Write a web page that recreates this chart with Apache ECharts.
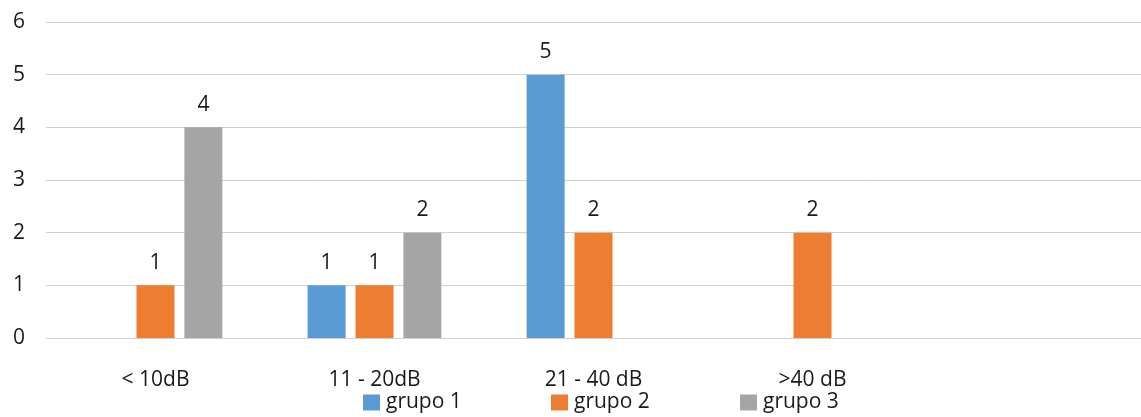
<!DOCTYPE html>
<html>
<head>
<meta charset="utf-8">
<script src="https://cdn.jsdelivr.net/npm/echarts@6/dist/echarts.min.js"></script>
<style>
  html, body { margin: 0; padding: 0; background: #fff; }
  #chart { width: 1141px; height: 417px; }
</style>
</head>
<body>
<div id="chart"></div>
<script>
// Hearing-loss ranges (last slot left empty)
const categories = ['< 10dB', '11 - 20dB', '21 - 40 dB', '>40 dB', ''];
const seriesNames = ['grupo 1', 'grupo 2', 'grupo 3'];
const grupo1 = [0, 1, 5, 0, null];
const grupo2 = [1, 1, 2, 2, null];
const grupo3 = [4, 2, 0, 0, null];
const yTicks = [0, 1, 2, 3, 4, 5, 6];

const colors = ['#5B9BD5', '#ED7D31', '#A5A5A5'];
const font = "'Open Sans', 'Noto Sans', sans-serif";
const textColor = '#1a1a1a';
const fontSize = 21;

const chart = echarts.init(document.getElementById('chart'));

const values = [grupo1, grupo2, grupo3];
const legendLeft = [363, 551, 740];

chart.setOption({
  animation: false,
  color: colors,
  grid: { left: 46, right: 0, top: 22, bottom: 79, containLabel: false },
  legend: seriesNames.map((name, i) => ({
    data: [name],
    left: legendLeft[i],
    top: 392,
    itemWidth: 17,
    itemHeight: 16,
    itemGap: 0,
    icon: 'rect',
    textStyle: { fontFamily: font, fontSize: fontSize, color: textColor, padding: [0, 0, 0, 1] },
    padding: 0
  })),
  xAxis: {
    type: 'category',
    data: categories,
    axisLine: { show: false },
    axisTick: { show: false },
    axisLabel: { fontFamily: font, fontSize: fontSize, color: textColor, margin: 32 }
  },
  yAxis: {
    type: 'value',
    min: yTicks[0],
    max: yTicks[yTicks.length - 1],
    interval: 1,
    axisLine: { show: false },
    axisTick: { show: false },
    axisLabel: { fontFamily: font, fontSize: fontSize, color: textColor, margin: 21 },
    splitLine: { lineStyle: { color: '#D0D0D0', width: 1 } }
  },
  series: seriesNames.map((name, i) => ({
    name: name,
    type: 'bar',
    data: values[i],
    barWidth: 38,
    barGap: '26%',
    label: {
      show: true,
      position: 'top',
      distance: 12,
      fontFamily: font,
      fontSize: fontSize,
      color: textColor,
      formatter: p => (p.value ? String(p.value) : '')
    }
  }))
});
</script>
</body>
</html>
